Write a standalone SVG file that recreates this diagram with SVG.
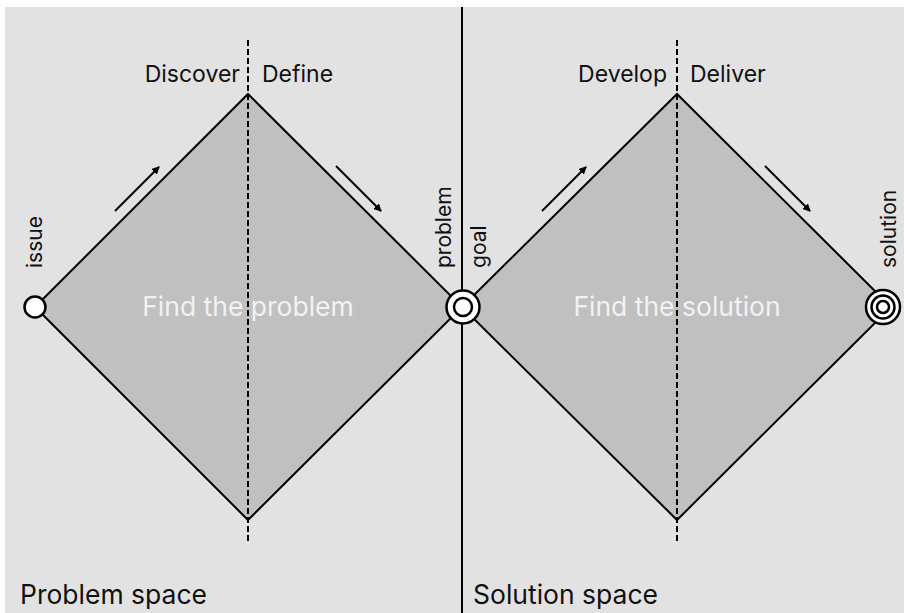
<svg xmlns="http://www.w3.org/2000/svg" width="904" height="613" viewBox="0 0 904 613">
<defs>
<style>
.bg{fill:#e2e2e2}
.dia{fill:#c0c0c0;stroke:#000;stroke-width:2;stroke-linejoin:miter}
.dash{stroke:#000;stroke-width:2;stroke-dasharray:6 3;fill:none}
.arr{stroke:#000;stroke-width:2;fill:none;marker-end:url(#ah)}
.lbl{font-family:Inter,"Liberation Sans",sans-serif;font-size:23px;fill:#111}
.rot{font-family:Inter,"Liberation Sans",sans-serif;font-size:21px;fill:#111}
.big{font-family:Inter,"Liberation Sans",sans-serif;font-size:26.5px;fill:#111}
.ctr{font-family:Inter,"Liberation Sans",sans-serif;font-size:26.5px;fill:#f2f2f2;text-anchor:middle}
.ring{fill:#fff;stroke:#000;stroke-width:2.5}
</style>
<marker id="ah" markerWidth="8" markerHeight="8" refX="7" refY="4" orient="auto" markerUnits="userSpaceOnUse" viewBox="0 0 8 8">
<path d="M0,0 L8,4 L0,8 Z" fill="#000"/>
</marker>
</defs>
<rect class="bg" x="5" y="7" width="899" height="606"/>
<g id="diamond-problem">
<polygon class="dia" points="35,307 248,94 462,307 248,520"/>
<line class="dash" x1="248" y1="40" x2="248" y2="542"/>
<text class="ctr" x="248" y="316">Find the problem</text>
</g>
<g id="diamond-solution">
<polygon class="dia" points="462,307 677,94 891,307 677,520"/>
<line class="dash" x1="677" y1="40" x2="677" y2="542"/>
<text class="ctr" x="677" y="316">Find the solution</text>
</g>
<line x1="462" y1="7" x2="462" y2="613" stroke="#000" stroke-width="2"/>
<g id="connectors">
<line class="arr" x1="115" y1="211" x2="159" y2="167"/>
<line class="arr" x1="336" y1="166" x2="381" y2="211"/>
<line class="arr" x1="542" y1="211" x2="586" y2="167"/>
<line class="arr" x1="765" y1="166" x2="810" y2="211"/>
</g>
<g id="phase-labels">
<text class="lbl" x="240" y="82" text-anchor="end">Discover</text>
<text class="lbl" x="262" y="82">Define</text>
<text class="lbl" x="667" y="82" text-anchor="end">Develop</text>
<text class="lbl" x="690" y="82">Deliver</text>
</g>
<g id="node-issue">
<circle class="ring" cx="35" cy="307" r="10.5"/>
<text class="rot" transform="translate(42,268) rotate(-90)">issue</text>
</g>
<g id="node-problem">
<circle class="ring" cx="463" cy="307" r="16.5" stroke-width="3"/>
<circle class="ring" cx="463" cy="307" r="9"/>
<text class="rot" transform="translate(451,268) rotate(-90)">problem</text>
<text class="rot" transform="translate(486,268) rotate(-90)">goal</text>
</g>
<g id="node-solution">
<circle class="ring" cx="883" cy="307" r="17" stroke-width="3"/>
<circle class="ring" cx="883" cy="307" r="11.5"/>
<circle class="ring" cx="883" cy="307" r="6"/>
<text class="rot" transform="translate(896,268) rotate(-90)">solution</text>
</g>
<g id="space-labels">
<text class="big" x="20" y="604">Problem space</text>
<text class="big" x="473" y="604">Solution space</text>
</g>
</svg>
